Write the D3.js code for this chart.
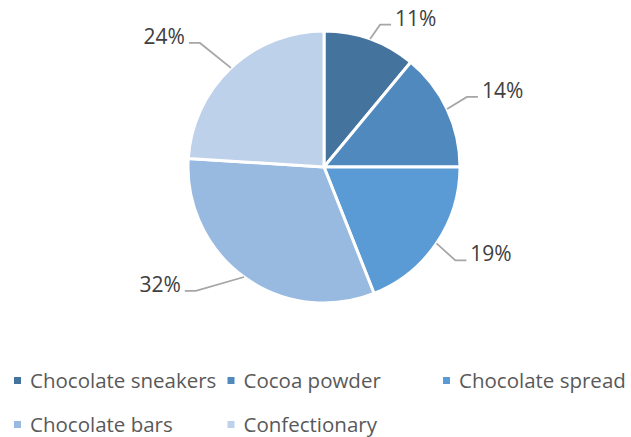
<!DOCTYPE html>
<html>
<head>
<meta charset="utf-8">
<script src="https://cdn.jsdelivr.net/npm/d3@7"></script>
<style>
  body { margin: 0; background: #fff; }
  svg { display: block; font-family: "Open Sans", "Liberation Sans", sans-serif; }
</style>
</head>
<body>
<div id="chart"></div>
<script>
// data
const categories = ['Chocolate sneakers', 'Cocoa powder', 'Chocolate spread', 'Chocolate bars', 'Confectionary'];
const shares = [11, 14, 19, 32, 24];
const colors = ['#44739e', '#4f89bd', '#5b9bd5', '#98b9e0', '#bdd1ea'];

// label leader layout (elbow radius factor, angle nudge in degrees)
const elbowK = [1.125, 1.17, 1.185, 1.31, 1.29];
const elbowNudge = [1.7, -0.9, 1.2, 10, -1.8];

const width = 631, height = 437;
const cx = 324, cy = 167, radius = 136;

const svg = d3.select('#chart').append('svg')
    .attr('width', width)
    .attr('height', height);

const pie = d3.pie().sort(null).value(d => d)(shares);
const arc = d3.arc().innerRadius(0).outerRadius(radius);

const g = svg.append('g').attr('transform', `translate(${cx},${cy})`);

g.selectAll('path.slice')
    .data(pie)
    .enter().append('path')
    .attr('class', 'slice')
    .attr('d', arc)
    .attr('fill', (d, i) => colors[i])
    .attr('stroke', '#fff')
    .attr('stroke-width', 3)
    .attr('stroke-linejoin', 'round');

function polar(r, a) {
    return [r * Math.sin(a), -r * Math.cos(a)];
}

const labels = g.selectAll('g.label')
    .data(pie)
    .enter().append('g')
    .attr('class', 'label');

labels.each(function (d, i) {
    const sel = d3.select(this);
    const mid = (d.startAngle + d.endAngle) / 2;
    const p0 = polar(radius, mid);
    const p1 = polar(radius * elbowK[i], mid + elbowNudge[i] * Math.PI / 180);
    const right = p1[0] > 0;
    const p2 = [p1[0] + (right ? 11 : -11), p1[1]];
    sel.append('polyline')
        .attr('points', [p0, p1, p2].map(p => p.join(',')).join(' '))
        .attr('fill', 'none')
        .attr('stroke', '#a6a6a6')
        .attr('stroke-width', 1.75);
    sel.append('text')
        .attr('x', p2[0] + (right ? 4 : -4))
        .attr('y', p1[1] + 1)
        .attr('text-anchor', right ? 'start' : 'end')
        .attr('font-size', 21)
        .attr('fill', '#404040')
        .text(d.data + '%');
});

// legend
const legendX = d3.scalePoint().domain([0, 1, 2]).range([14, 443]);
const legendY = d3.scalePoint().domain([0, 1]).range([381, 425]);
const legend = svg.selectAll('g.legend')
    .data(categories)
    .enter().append('g')
    .attr('class', 'legend')
    .attr('transform', (d, i) => `translate(${legendX(i % 3) + (i % 3 === 1 ? -1 : 0)},${legendY(Math.floor(i / 3))})`);

legend.append('rect')
    .attr('x', 0)
    .attr('y', -4)
    .attr('width', 7)
    .attr('height', 7)
    .attr('fill', (d, i) => colors[i]);

legend.append('text')
    .attr('x', 16)
    .attr('y', 7)
    .attr('font-size', 20.5)
    .attr('fill', '#595959')
    .text(d => d);
</script>
</body>
</html>
